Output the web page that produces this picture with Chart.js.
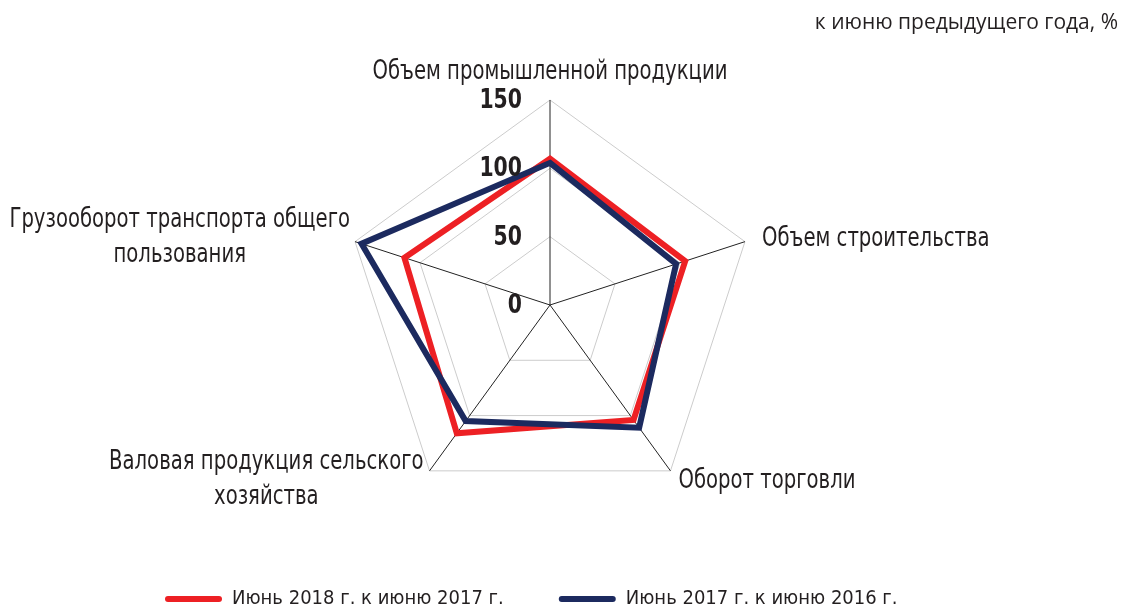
<!DOCTYPE html>
<html>
<head>
<meta charset="utf-8">
<script src="https://cdn.jsdelivr.net/npm/chart.js@4"></script>
<style>
  html, body { margin: 0; padding: 0; background: #fff; }
</style>
</head>
<body>
<canvas id="myChart" width="1122" height="609"></canvas>
<script>
var categories = [
    ["Объем промышленной продукции"],
    ["Объем строительства"],
    ["Оборот торговли"],
    ["Валовая продукция сельского", "хозяйства"],
    ["Грузооборот транспорта общего", "пользования"]
]
var june2018 = [107, 104, 104, 116, 112]
var june2017 = [104, 97, 111, 105, 145]
var tickValues = [0, 50, 100, 150]
var seriesNames = ["Июнь 2018 г. к июню 2017 г.", "Июнь 2017 г. к июню 2016 г."]
var unitTitle = "к июню предыдущего года, %"

var narrow = "'Liberation Sans Narrow', 'DejaVu Sans Condensed', sans-serif"
var squeeze = 0.84   // the original face is narrower than anything installed

function narrowText(ctx, t, x, y){
    ctx.save()
    ctx.translate(x, y)
    ctx.scale(squeeze, 1)
    ctx.fillText(t, 0, 0)
    ctx.restore()
}

// put the radar where it sits in the picture
var placeRadar = {
    id: 'placeRadar',
    afterLayout: function(chart){
        var r = chart.scales.r
        r.xCenter = 550
        r.yCenter = 305
        r.drawingArea = 205
    }
}

// tick numbers to the left of the top spoke
var tickText = {
    id: 'tickText',
    afterDatasetsDraw: function(chart){
        var r = chart.scales.r
        var ctx = chart.ctx
        ctx.save()
        ctx.font = "bold 27px " + narrow
        ctx.fillStyle = "#231f20"
        ctx.textAlign = "right"
        ctx.textBaseline = "middle"
        tickValues.forEach(function(v){
            var p = r.getPointPositionForValue(0, v)
            narrowText(ctx, String(v), p.x - 28, p.y + 1)
        })
        ctx.restore()
    }
}

// category names around the pentagon, lines centred inside their block
var shifts = [[0, -28], [17, -2], [8, 10], [-6, 9], [-5, -4]]
var pointText = {
    id: 'pointText',
    afterDraw: function(chart){
        var r = chart.scales.r
        var ctx = chart.ctx
        ctx.save()
        ctx.font = "26px " + narrow
        ctx.fillStyle = "#231f20"
        ctx.textBaseline = "middle"
        ctx.textAlign = "center"
        var lh = 35
        categories.forEach(function(lines, i){
            var p = r.getPointPosition(i, r.drawingArea)
            var x = p.x + shifts[i][0]
            var y = p.y + shifts[i][1]
            var w = 0
            lines.forEach(function(t){ w = Math.max(w, ctx.measureText(t).width * squeeze) })
            var cx
            if (i == 0) cx = x
            else if (p.x > r.xCenter) cx = x + w / 2
            else cx = x - w / 2
            var y0 = y - (lines.length - 1) * lh / 2
            lines.forEach(function(t, k){
                narrowText(ctx, t, cx, y0 + k * lh)
            })
        })
        ctx.restore()
    }
}

var myChart = document.getElementById("myChart").getContext('2d')

var chart = new Chart(myChart, {
    type: 'radar',
    data: {
        labels: categories,
        datasets: [
            {
                label: seriesNames[0],
                data: june2018,
                borderColor: "#ed2024",
                backgroundColor: "#ed2024",
                borderWidth: 6,
                fill: false,
                pointRadius: 0,
                order: 1,
                clip: false
            },
            {
                label: seriesNames[1],
                data: june2017,
                borderColor: "#1c2a5f",
                backgroundColor: "#1c2a5f",
                borderWidth: 6,
                fill: false,
                pointRadius: 0,
                order: 0,
                clip: false
            }
        ]
    },
    options: {
        responsive: false,
        animation: false,
        layout: { padding: { left: 110, right: 4, top: 0, bottom: -10 } },
        elements: { line: { tension: 0, borderJoinStyle: 'miter' } },
        scales: {
            r: {
                min: 0,
                max: 150,
                ticks: { stepSize: 50, display: false },
                grid: { color: "#cccccc", lineWidth: 1 },
                angleLines: { color: "#222", lineWidth: 1 },
                pointLabels: { display: false }
            }
        },
        plugins: {
            title: {
                display: true,
                text: unitTitle,
                align: 'end',
                color: "#231f20",
                font: { family: "'Open Sans', sans-serif", size: 21, weight: 'normal' },
                padding: { top: 10, bottom: 10 }
            },
            legend: {
                position: 'bottom',
                align: 'start',
                labels: {
                    boxWidth: 57,
                    boxHeight: 6,
                    padding: 55,
                    color: "#231f20",
                    font: { family: narrow, size: 20 },
                    useBorderRadius: true,
                    borderRadius: 3,
                    generateLabels: function(c){
                        var items = Chart.defaults.plugins.legend.labels.generateLabels(c)
                        items.sort(function(a, b){ return a.datasetIndex - b.datasetIndex })
                        items.forEach(function(it){
                            it.fillStyle = it.strokeStyle
                            it.lineWidth = 0
                        })
                        return items
                    }
                }
            },
            tooltip: { enabled: false }
        }
    },
    plugins: [placeRadar, tickText, pointText]
})
</script>
</body>
</html>
